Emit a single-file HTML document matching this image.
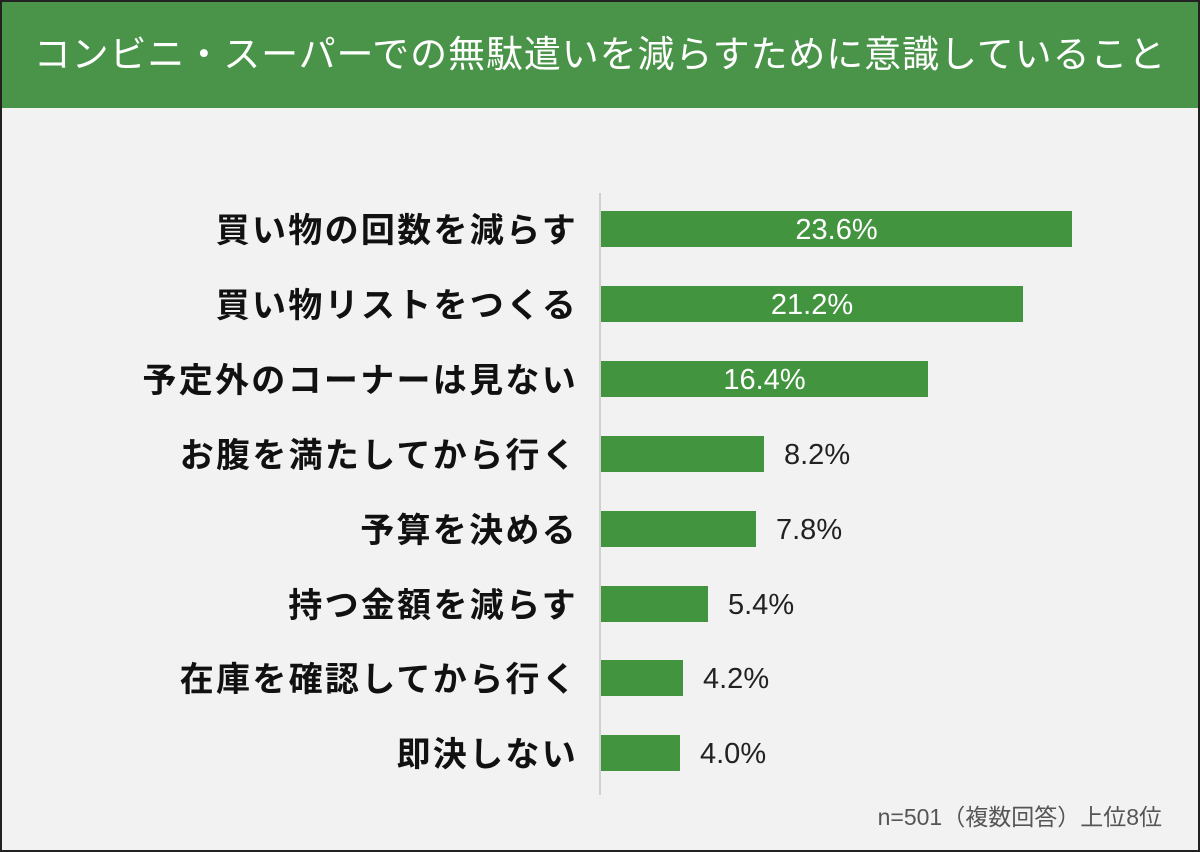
<!DOCTYPE html>
<html><head><meta charset="utf-8"><style>
body{margin:0;width:1200px;height:852px;background:#fff;overflow:hidden;font-family:"Liberation Sans","Noto Sans CJK JP",sans-serif}
.frame{position:absolute;left:0;top:0;width:1196px;height:848px;border:2px solid #222;background:#f2f2f2}
.head{position:absolute;left:0;top:0;width:1196px;height:106px;background:#4a944a;color:#fff;font-size:37px;line-height:106px;text-align:center;font-weight:normal;letter-spacing:0.9px}
.axis{position:absolute;left:597px;top:191px;width:2px;height:602px;background:#d0d0d0}
.lab{position:absolute;right:620px;font-size:34px;letter-spacing:2.3px;font-weight:bold;color:#111;height:36px;line-height:40px;white-space:nowrap}
.bar{position:absolute;left:599px;height:36px;background:#43943f}
.val{position:absolute;font-size:29px;height:36px;line-height:38px;color:#222}
.in{color:#fff;text-align:center}
.note{position:absolute;right:36px;top:796px;font-size:23px;color:#555}
</style></head><body><div class="frame">
<div class="head">コンビニ・スーパーでの無駄遣いを減らすために意識していること</div>
<div class="axis"></div>
<div class="lab" style="top:209px">買い物の回数を減らす</div><div class="bar" style="top:209px;width:471px"></div><div class="val in" style="top:209px;left:599px;width:471px">23.6%</div>
<div class="lab" style="top:284px">買い物リストをつくる</div><div class="bar" style="top:284px;width:422px"></div><div class="val in" style="top:284px;left:599px;width:422px">21.2%</div>
<div class="lab" style="top:359px">予定外のコーナーは見ない</div><div class="bar" style="top:359px;width:327px"></div><div class="val in" style="top:359px;left:599px;width:327px">16.4%</div>
<div class="lab" style="top:434px">お腹を満たしてから行く</div><div class="bar" style="top:434px;width:163px"></div><div class="val" style="top:434px;left:782px">8.2%</div>
<div class="lab" style="top:509px">予算を決める</div><div class="bar" style="top:509px;width:155px"></div><div class="val" style="top:509px;left:774px">7.8%</div>
<div class="lab" style="top:584px">持つ金額を減らす</div><div class="bar" style="top:584px;width:107px"></div><div class="val" style="top:584px;left:726px">5.4%</div>
<div class="lab" style="top:658px">在庫を確認してから行く</div><div class="bar" style="top:658px;width:82px"></div><div class="val" style="top:658px;left:701px">4.2%</div>
<div class="lab" style="top:733px">即決しない</div><div class="bar" style="top:733px;width:79px"></div><div class="val" style="top:733px;left:698px">4.0%</div>
<div class="note">n=501（複数回答）上位8位</div>
</div></body></html>
